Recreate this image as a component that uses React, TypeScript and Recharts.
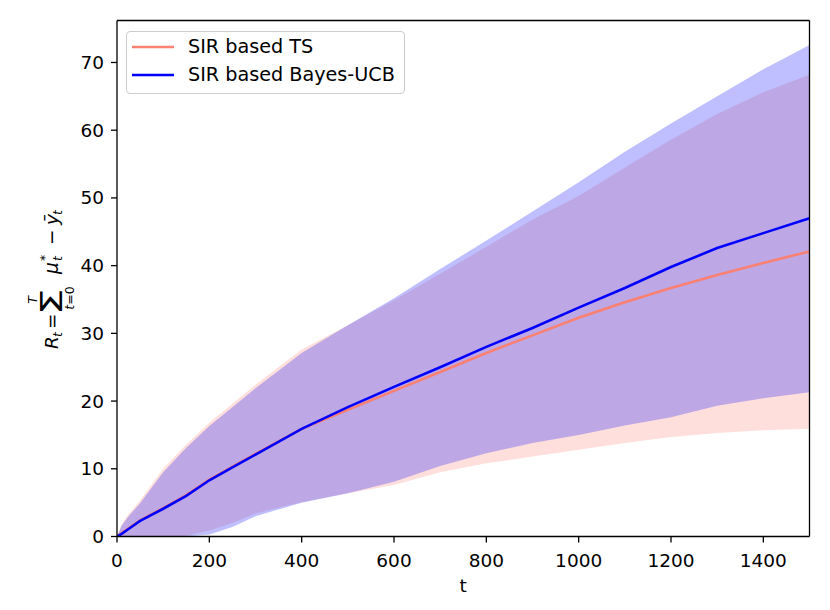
import React from "react";
import {
  ComposedChart,
  Area,
  Line,
  XAxis,
  YAxis,
  Legend,
  ReferenceLine,
} from "recharts";

// sampled time steps
const tSteps = [0, 10, 25, 50, 100, 150, 200, 250, 300, 400, 500, 600, 700, 800, 900, 1000, 1100, 1200, 1300, 1400, 1500];

// SIR based TS
const tsMean = [0, 0.5, 1.2, 2.4, 4.2, 6.1, 8.4, 10.3, 12.2, 15.9, 18.7, 21.5, 24.3, 27.1, 29.7, 32.3, 34.6, 36.7, 38.6, 40.4, 42.1];
const tsUpper = [0, 1.8, 3.3, 5.3, 10.0, 13.6, 16.8, 19.6, 22.4, 27.6, 31.2, 34.9, 38.8, 42.8, 46.8, 50.3, 54.5, 58.6, 62.4, 65.6, 68.2];
const tsLower = [0, 0, 0, 0, 0, 0.1, 0.9, 2.0, 3.4, 5.1, 6.4, 7.6, 9.5, 10.8, 11.8, 12.8, 13.8, 14.7, 15.3, 15.7, 15.9];

// SIR based Bayes-UCB
const ucbMean = [0, 0.4, 1.1, 2.3, 4.1, 6.0, 8.3, 10.2, 12.1, 15.9, 19.1, 22.1, 25.0, 28.0, 30.8, 33.8, 36.7, 39.8, 42.6, 44.8, 47.0];
const ucbUpper = [0, 1.6, 3.0, 4.9, 9.5, 13.1, 16.3, 19.1, 21.9, 27.1, 31.2, 35.2, 39.5, 43.7, 48.0, 52.3, 56.8, 61.0, 65.0, 69.0, 72.6];
const ucbLower = [0, 0, 0, 0, 0, 0, 0.3, 1.4, 3.0, 5.0, 6.4, 8.1, 10.4, 12.3, 13.8, 15.0, 16.4, 17.6, 19.3, 20.4, 21.3];

const xTicks = [0, 200, 400, 600, 800, 1000, 1200, 1400];
const yTicks = [0, 10, 20, 30, 40, 50, 60, 70];

const chartData = tSteps.map((t, i) => ({
  t,
  tsMean: tsMean[i],
  tsBand: [tsLower[i], tsUpper[i]],
  ucbMean: ucbMean[i],
  ucbBand: [ucbLower[i], ucbUpper[i]],
}));

const FONT = "DejaVu Sans";
const FS = 18.5;
const SALMON = "#fa8072";
const BLUE = "#0000ff";
const Y_MAX = 76.2;
const X_MAX = 1500;

const legendItems = [
  { name: "SIR based TS", color: SALMON },
  { name: "SIR based Bayes-UCB", color: BLUE },
];

function renderLegend() {
  return (
    <div
      style={{
        width: 277,
        height: 60,
        border: "1px solid #cccccc",
        borderRadius: 4,
        background: "rgba(255,255,255,0.8)",
        paddingTop: 1,
        fontFamily: FONT,
        fontSize: 19.2,
        color: "#000",
      }}
    >
      {legendItems.map((it) => (
        <div
          key={it.name}
          style={{ display: "flex", alignItems: "center", height: 28.3, paddingLeft: 5 }}
        >
          <svg width={42} height={4} style={{ marginRight: 14 }}>
            <line x1={0} y1={2} x2={42} y2={2} stroke={it.color} strokeWidth={2.7} />
          </svg>
          <span style={{ lineHeight: "28px" }}>{it.name}</span>
        </div>
      ))}
    </div>
  );
}

// R_t = sum_{t=0}^{T} mu*_t - ybar_t, drawn rotated
function YLabel() {
  const cx = 57.5;
  const cy = 280;
  const sub = 12.5;
  return (
    <g transform={`translate(${cx},${cy}) rotate(-90)`} fontFamily={FONT} fill="#000">
      <text x={-69} y={0} fontSize={FS} fontStyle="italic">R</text>
      <text x={-57} y={4} fontSize={sub} fontStyle="italic">t</text>
      <text x={-49} y={0} fontSize={FS}>=</text>
      <text transform="translate(-35,4.5) scale(1.4,1)" fontSize={30}>Σ</text>
      <text x={-20} y={-21} fontSize={sub} fontStyle="italic" textAnchor="middle">T</text>
      <text x={-18} y={16} fontSize={sub} textAnchor="middle">
        <tspan fontStyle="italic">t</tspan>=0
      </text>
      <text x={6} y={0} fontSize={FS} fontStyle="italic">μ</text>
      <text x={19} y={-9} fontSize={sub}>*</text>
      <text x={19} y={4} fontSize={sub} fontStyle="italic">t</text>
      <text x={35} y={0} fontSize={FS}>−</text>
      <text x={55} y={0} fontSize={FS} fontStyle="italic">ȳ</text>
      <text x={65} y={4} fontSize={sub} fontStyle="italic">t</text>
    </g>
  );
}

const tickStyle = { fill: "#000", fontSize: FS, fontFamily: FONT };
const axisLine = { stroke: "#000", strokeWidth: 1.3 };

export default function App() {
  return (
    <div style={{ position: "absolute", left: 0, top: 0, background: "#fff" }}>
      <ComposedChart
        width={830}
        height={610}
        data={chartData}
        margin={{ top: 20.5, right: 20.5, bottom: 0, left: 0 }}
      >
        <XAxis
          dataKey="t"
          type="number"
          domain={[0, X_MAX]}
          ticks={xTicks}
          height={73.5}
          tick={tickStyle}
          tickSize={6}
          tickMargin={11}
          axisLine={axisLine}
          tickLine={axisLine}
          allowDataOverflow
          label={{ value: "t", position: "insideBottom", offset: 18, fill: "#000", fontSize: FS, fontFamily: FONT }}
        />
        <YAxis
          type="number"
          domain={[0, Y_MAX]}
          ticks={yTicks}
          width={117}
          tick={tickStyle}
          tickSize={6}
          tickMargin={7}
          axisLine={axisLine}
          tickLine={axisLine}
          allowDataOverflow
          label={() => <YLabel />}
        />
        <Area
          dataKey="tsBand"
          type="linear"
          stroke="none"
          fill={SALMON}
          fillOpacity={0.25}
          isAnimationActive={false}
        />
        <Area
          dataKey="ucbBand"
          type="linear"
          stroke="none"
          fill={BLUE}
          fillOpacity={0.25}
          isAnimationActive={false}
        />
        <Line
          dataKey="tsMean"
          type="linear"
          stroke={SALMON}
          strokeWidth={2.6}
          dot={false}
          isAnimationActive={false}
        />
        <Line
          dataKey="ucbMean"
          type="linear"
          stroke={BLUE}
          strokeWidth={2.6}
          dot={false}
          isAnimationActive={false}
        />
        {/* top and right spines */}
        <ReferenceLine y={Y_MAX} stroke="#000" strokeWidth={1.3} />
        <ReferenceLine x={X_MAX} stroke="#000" strokeWidth={1.3} />
        <Legend
          layout="vertical"
          align="center"
          verticalAlign="middle"
          content={renderLegend}
          wrapperStyle={{ left: 126, top: 31, width: 279, height: 62 }}
        />
      </ComposedChart>
    </div>
  );
}
